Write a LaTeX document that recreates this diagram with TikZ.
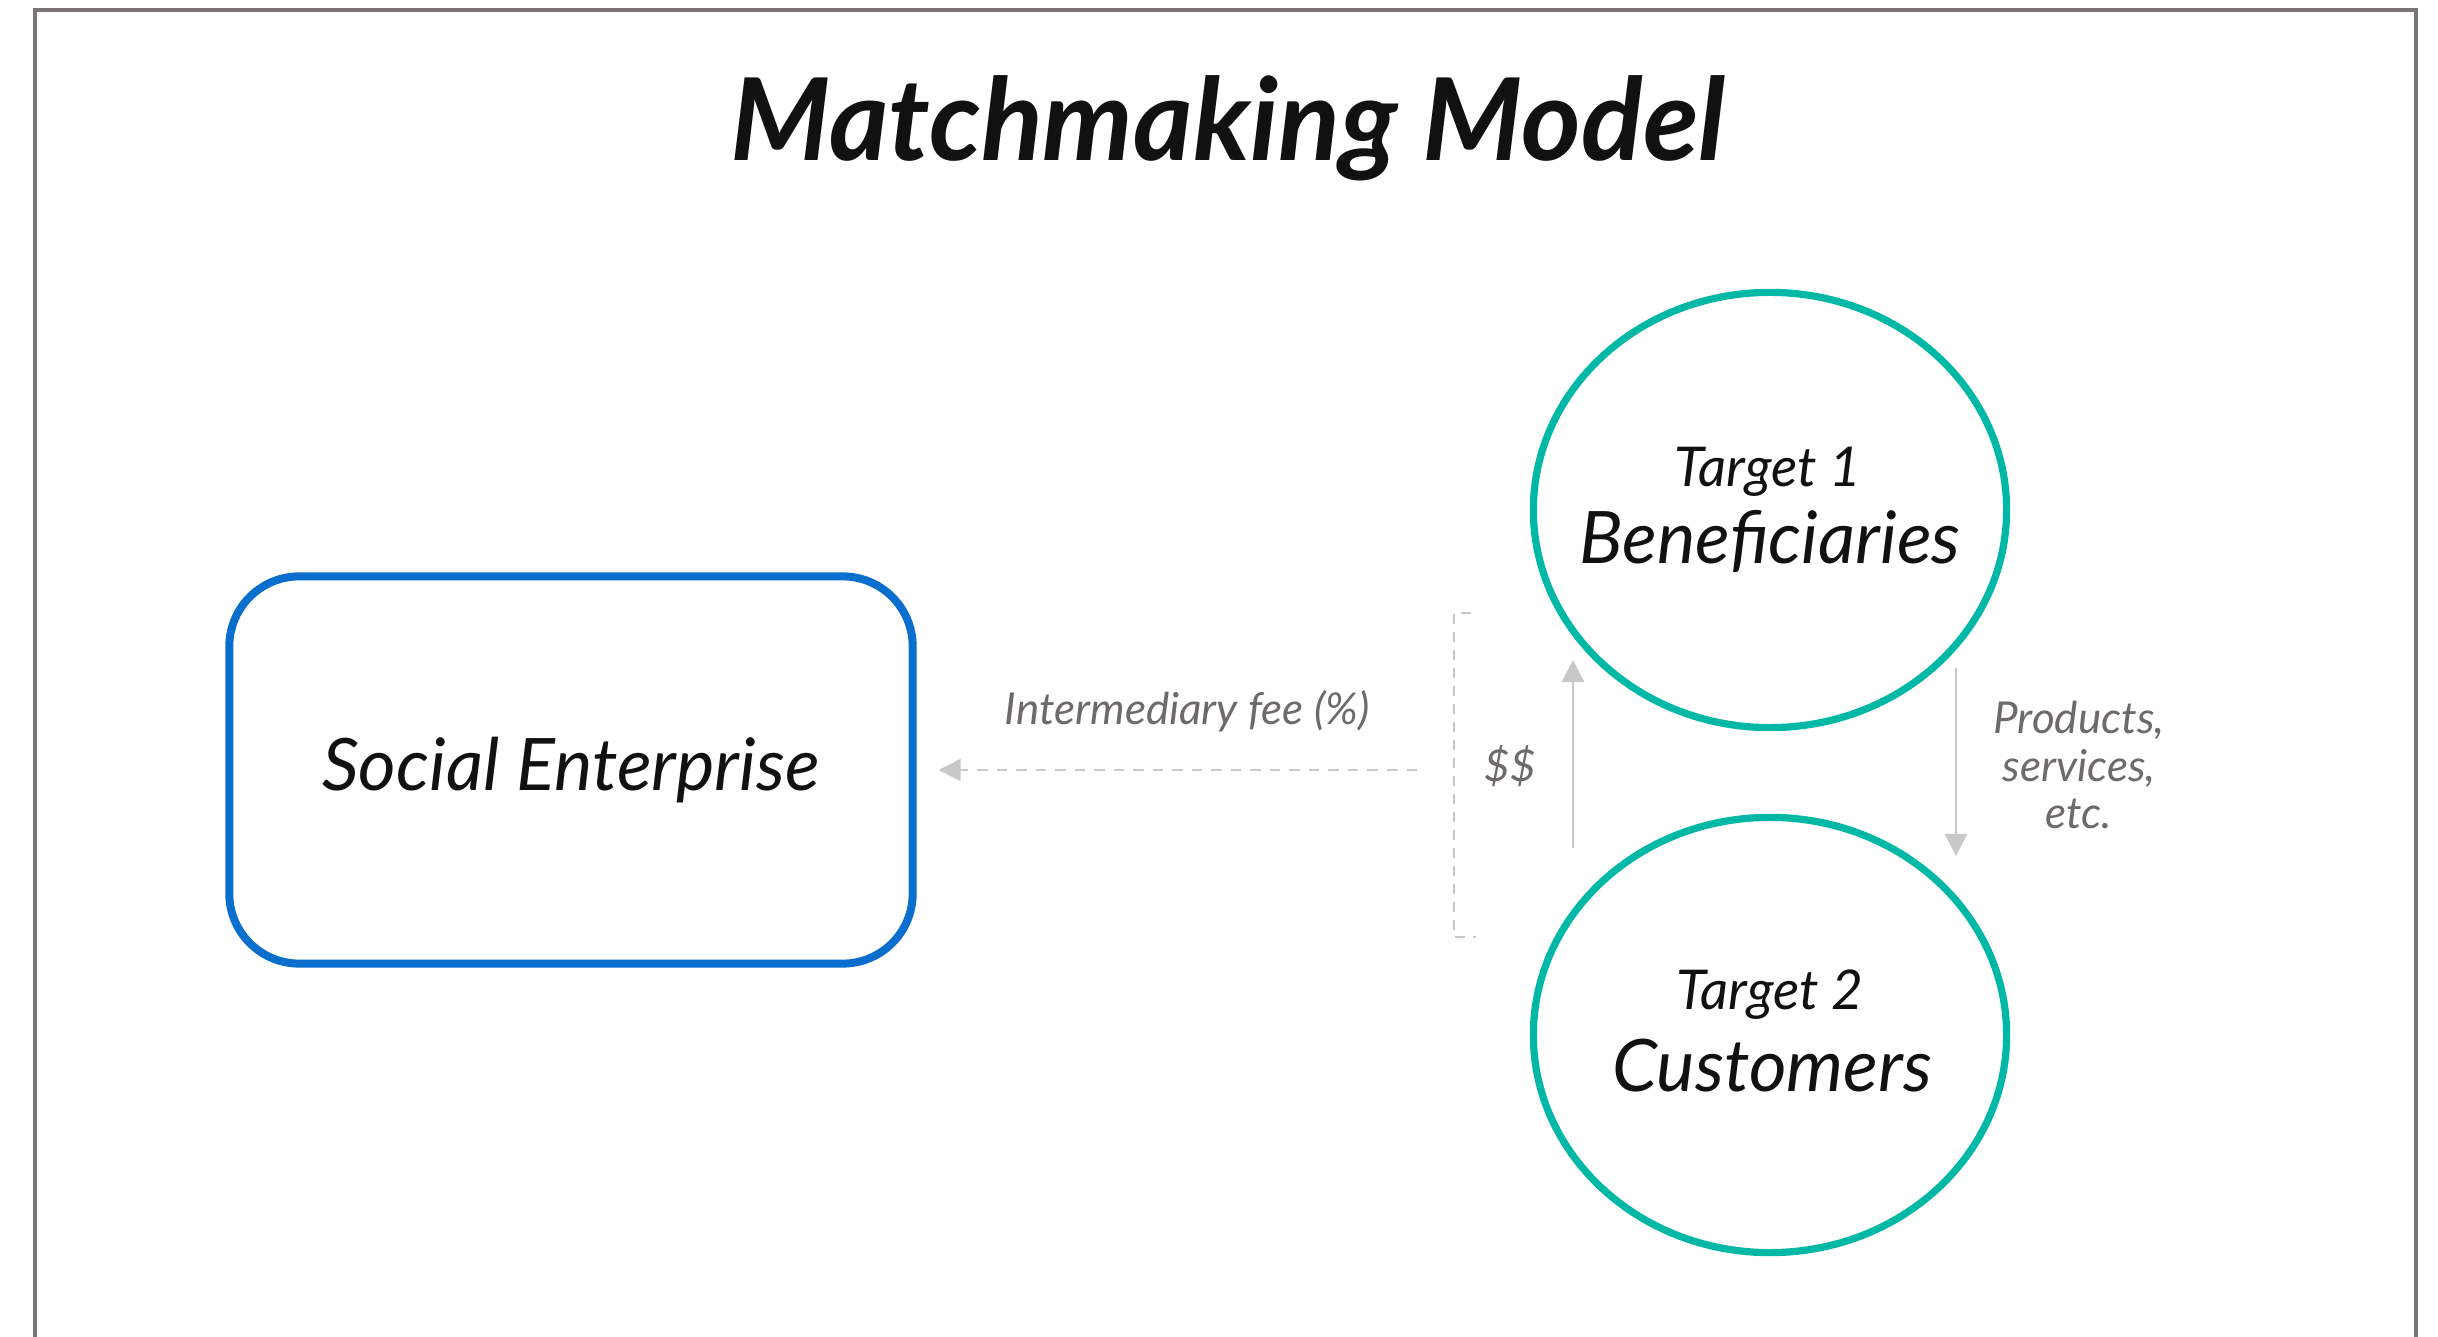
\documentclass[tikz,border=0pt]{standalone}
\usepackage{fontspec}
\setmainfont{Lato}
\usetikzlibrary{arrows.meta,calc,shapes.geometric}
\definecolor{framegray}{HTML}{7A7676}
\definecolor{seblue}{HTML}{0A6FCC}
\definecolor{teal}{HTML}{00B8A5}
\definecolor{flowgray}{HTML}{C8C8C8}
\definecolor{labelgray}{HTML}{6E6A6A}
\definecolor{ink}{HTML}{111111}
\tikzset{
  sebox/.style={draw=seblue, line width=0.08cm, rounded corners=0.7cm,
    minimum width=6.83cm, minimum height=3.87cm, text=ink,
    font=\itshape\fontsize{20.6}{25}\selectfont},
  target/.style={draw=teal, line width=0.072cm, ellipse, minimum width=4.73cm,
    minimum height=4.35cm, inner sep=0pt},
  tsmall/.style={text=ink, font=\itshape\fontsize{15.6}{19}\selectfont},
  tbig/.style={text=ink, font=\itshape\fontsize{20.6}{25}\selectfont},
  flowlabel/.style={text=labelgray, font=\itshape\fontsize{12.5}{13.6}\selectfont, align=center},
  flow/.style={draw=flowgray, line width=0.025cm, -{Triangle[length=0.22cm,width=0.22cm]}},
  feeflow/.style={flow, dash pattern=on 0.105cm off 0.09cm},
  bracketline/.style={draw=flowgray, line width=0.025cm, dash pattern=on 0.1cm off 0.08cm},
}
\begin{document}
\begin{tikzpicture}[x=0.01cm, y=-0.01cm]
  \useasboundingbox (0,0) rectangle (2438,1337);
  % page frame (open at the bottom)
  \draw[framegray, line width=0.04cm] (35,1400) -- (35,10) -- (2416,10) -- (2416,1400);

  % title
  \node[text=ink, font=\bfseries\itshape\fontsize{32.5}{38}\selectfont] (title) at (1228,128) {Matchmaking Model};

  % main actors
  \node[sebox] (se) at (571,770) {Social Enterprise};
  \node[target] (t1) at (1770,510) {};
  \node[target] (t2) at (1770,1035) {};
  \node[tsmall] (t1a) at (1768,472) {Target 1};
  \node[tbig]   (t1b) at (1770,541) {Beneficiaries};
  \node[tsmall] (t2a) at (1770,995) {Target 2};
  \node[tbig]   (t2b) at (1772,1066) {Customers};

  % money and goods exchanged between the two targets
  \coordinate (upfrom) at (1573,848);
  \coordinate (upto)   at (1573,660);
  \coordinate (downfrom) at (1956,668);
  \coordinate (downto)   at (1956,856);
  \draw[flow] (upfrom) -- (upto);
  \draw[flow] (downfrom) -- (downto);
  \node[flowlabel] (money) at (1510,766) {\$\$};
  \node[flowlabel] (goods) at (2079,765) {Products,\\services,\\etc.};

  % bracket grouping the exchange
  \coordinate (brtop) at (1471,613);
  \coordinate (brbot) at (1476,937);
  \draw[bracketline] (brtop) -- (1454,613) -- (1454,937) -- (brbot);

  % fee flowing back to the social enterprise
  \coordinate (feefrom) at (1417,770);
  \draw[feeflow, shorten >=0.22cm] (feefrom) -- (se.east);
  \node[flowlabel] (fee) at (1187,711) {Intermediary fee (\%)};
\end{tikzpicture}
\end{document}
